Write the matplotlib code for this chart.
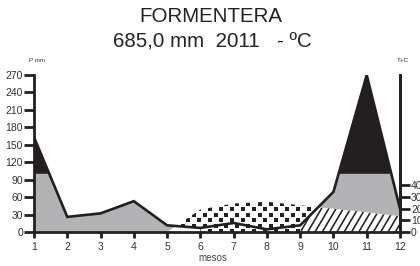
import numpy as np
import matplotlib
matplotlib.use("Agg")
import matplotlib.pyplot as plt
from matplotlib.patches import Rectangle
from matplotlib.collections import LineCollection

plt.rcParams['font.family'] = ['Liberation Sans', 'DejaVu Sans']

# Data
months = np.arange(1, 13)
month_labels = [str(m) for m in months]
precip_mm = np.array([163, 26, 32, 53, 11.5, 7, 15.5, 4.6, 11.5, 69, 270, 40])
temp_c = np.array([0, 0, 0, 0, 0, 19.3, 24.5, 26, 23, 20, 17, 13.5])
p_ticks = [0, 30, 60, 90, 120, 150, 180, 210, 240, 270]
t_ticks = [0, 10, 20, 30, 40]
title1 = "FORMENTERA"
title2 = "685,0 mm  2011   - ºC"

dark = '#231f20'
grey = '#b3b3b5'

x = months.astype(float)
P = precip_mm
Tm = temp_c * 2.0

fig = plt.figure(figsize=(4.2, 2.66), dpi=100)
ax = fig.add_axes([34/420, 1-232/266, (400-34)/420, (232-75)/266])
ax.set_xlim(1, 12)
ax.set_ylim(0, 270)
ax.set_facecolor('none')

fig.canvas.draw()
X0, Y0 = ax.transAxes.transform((0, 0))
X1, Y1 = ax.transAxes.transform((1, 1))
inv = ax.transData.inverted()

# hatched region (below temperature) from month 9
regH = ax.fill_between(x, 0, Tm, where=x >= 9, facecolor='white',
                       linewidth=0, zorder=1)
H = Y1 - Y0
segs = []
for c in np.arange(X0 - H, X1 + 10, 7.3):
    p0 = inv.transform((c, Y0))
    p1 = inv.transform((c + H / 1.7, Y1))
    segs.append([p0, p1])
for path in regH.get_paths():
    lc = LineCollection(segs, colors=dark, linewidths=1.15, zorder=2)
    ax.add_collection(lc)
    lc.set_clip_path(path, ax.transData)

# dry region: between P and T where T>P, plus below P
regA = ax.fill_between(x, P, Tm, where=Tm > P, interpolate=True,
                       facecolor='white', linewidth=0, zorder=2)
regB = ax.fill_between(x, 0, P, where=Tm > P, facecolor='white',
                       linewidth=0, zorder=2)

# checker texture
pts = []
row = 0
yy = Y0 + 1
while yy < Y1:
    off = 5.5 if row % 2 else 0
    for xx in np.arange(X0 + off, X1, 11):
        pts.append((xx, yy))
    yy += 5.5
    row += 1
pts = np.array(pts)
dpts = inv.transform(pts)
for coll in (regA, regB):
    for path in coll.get_paths():
        sc = ax.scatter(dpts[:, 0], dpts[:, 1], marker='s', s=11, color=dark,
                        linewidths=0, zorder=3)
        sc.set_clip_path(path, ax.transData)

# wet region (grey), capped at 100
gfill = ax.fill_between(x, Tm, P, where=P > Tm, interpolate=True,
                        facecolor=grey, linewidth=0, zorder=4)
clip_rect = Rectangle((0, 0), 13, 100, transform=ax.transData)
gfill.set_clip_path(clip_rect)
# above 100 (black)
ax.fill_between(x, 100, P, where=P > 100, interpolate=True,
                facecolor=dark, linewidth=0, zorder=4)

ax.plot(x, P, color=dark, lw=1.9, zorder=5, solid_joinstyle='miter')

# axes styling
ax.spines['top'].set_visible(False)
for s in ['left', 'bottom', 'right']:
    ax.spines[s].set_linewidth(2.0)
    ax.spines[s].set_color(dark)
    ax.spines[s].set_zorder(6)

ax.set_xticks(months)
ax.set_xticklabels(month_labels, fontsize=7.5, color='#333333')
ax.set_yticks(p_ticks)
ax.set_yticklabels([str(v) for v in p_ticks], fontsize=7.5, color='#333333')
ax.tick_params(axis='y', length=7, width=2, color=dark, pad=1)
ax.tick_params(axis='x', length=4, width=2, color=dark, pad=3)

ax2 = ax.twinx()
ax2.set_ylim(0, 135)
ax2.set_yticks(t_ticks)
ax2.set_yticklabels([str(v) for v in t_ticks], fontsize=7.5, color='#333333')
ax2.tick_params(axis='y', length=7, width=2, color=dark, pad=1)
for s in ['top', 'left', 'bottom']:
    ax2.spines[s].set_visible(False)
ax2.spines['right'].set_linewidth(2.0)
ax2.spines['right'].set_color(dark)

fig.text(0.502, 1-17/266, title1, ha='center', va='center', fontsize=14.8, color='#222222')
fig.text(0.505, 1-42/266, title2, ha='center', va='center', fontsize=14.8, color='#222222')
fig.text(37/420, 1-61/266, "P mm", ha='center', va='center', fontsize=4.5, color='#333333')
fig.text(403/420, 1-61/266, "T+C", ha='center', va='center', fontsize=4.5, color='#333333')
fig.text(213/420, 1-258/266, "mesos", ha='center', va='center', fontsize=7, color='#444444')

fig.savefig("out.png", dpi=100)
